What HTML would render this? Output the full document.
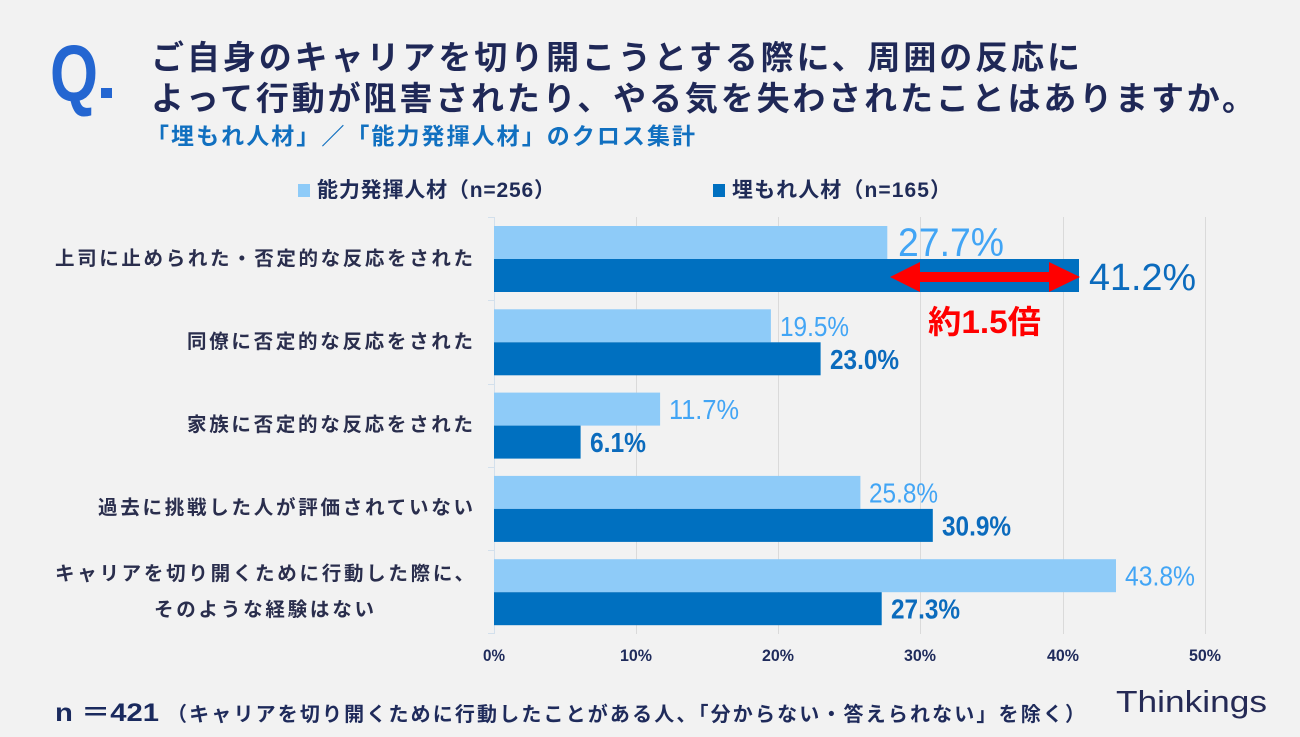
<!DOCTYPE html>
<html><head><meta charset="utf-8"><style>
html,body{margin:0;padding:0;background:#f2f2f2;}
svg{display:block;}
text{font-family:"Liberation Sans","Noto Sans CJK JP",sans-serif;}
</style></head><body>
<svg width="1300" height="737" viewBox="0 0 1300 737" xmlns="http://www.w3.org/2000/svg">
<rect width="1300" height="737" fill="#f2f2f2"/>
<!-- Q. -->
<text x="50" y="101" font-size="80" font-weight="bold" fill="#2466d1" textLength="48" lengthAdjust="spacingAndGlyphs">Q</text>
<rect x="101" y="88" width="11" height="10" fill="#2466d1"/>
<!-- Title -->
<text x="151" y="69" font-size="33" font-weight="bold" fill="#1f2857" textLength="929" lengthAdjust="spacing">ご自身のキャリアを切り開こうとする際に、周囲の反応に</text>
<text x="151" y="110" font-size="33" font-weight="bold" fill="#1f2857" textLength="1104" lengthAdjust="spacing">よって行動が阻害されたり、やる気を失わされたことはありますか。</text>
<text x="146" y="144" font-size="23" font-weight="bold" fill="#1170c0" textLength="549" lengthAdjust="spacing">「埋もれ人材」／「能力発揮人材」のクロス集計</text>
<!-- Legend -->
<rect x="298" y="184" width="12" height="13" fill="#8ecbf8"/>
<text x="317" y="197" font-size="21" font-weight="bold" fill="#1f2b57" textLength="238" lengthAdjust="spacing">能力発揮人材（n=256）</text>
<rect x="713" y="184" width="12" height="13" fill="#0070c0"/>
<text x="732" y="197" font-size="21" font-weight="bold" fill="#1f2b57" textLength="219" lengthAdjust="spacing">埋もれ人材（n=165）</text>
<!-- Grid -->
<g stroke="#dadada" stroke-width="1">
<line x1="636.5" y1="217" x2="636.5" y2="634"/>
<line x1="778.5" y1="217" x2="778.5" y2="634"/>
<line x1="920.5" y1="217" x2="920.5" y2="634"/>
<line x1="1063.5" y1="217" x2="1063.5" y2="634"/>
<line x1="1205.5" y1="217" x2="1205.5" y2="634"/>
</g>
<g stroke="#d3e0ec" stroke-width="1">
<line x1="494.5" y1="217" x2="494.5" y2="634"/>
<line x1="488" y1="217.5" x2="494" y2="217.5"/>
<line x1="488" y1="300.5" x2="494" y2="300.5"/>
<line x1="488" y1="384.5" x2="494" y2="384.5"/>
<line x1="488" y1="467.5" x2="494" y2="467.5"/>
<line x1="488" y1="550.5" x2="494" y2="550.5"/>
<line x1="488" y1="633.5" x2="494" y2="633.5"/>
</g>
<!-- Bars -->
<g fill="#8ecbf8">
<rect x="494" y="226" width="393.3" height="33"/>
<rect x="494" y="309.3" width="276.9" height="33"/>
<rect x="494" y="392.6" width="166.1" height="33"/>
<rect x="494" y="475.9" width="366.4" height="33"/>
<rect x="494" y="559.2" width="622" height="33"/>
</g>
<g fill="#0070c0">
<rect x="494" y="259" width="585" height="33"/>
<rect x="494" y="342.3" width="326.6" height="33"/>
<rect x="494" y="425.6" width="86.6" height="33"/>
<rect x="494" y="508.9" width="438.8" height="33"/>
<rect x="494" y="592.2" width="387.7" height="33"/>
</g>
<!-- Arrow -->
<polygon points="890,277 920,262 920,272 1049,272 1049,262 1080,277 1049,292 1049,282 920,282 920,292" fill="#ff0000"/>
<text x="928" y="333" font-size="32" font-weight="bold" fill="#ff0000" textLength="113" lengthAdjust="spacingAndGlyphs">約1.5倍</text>
<!-- Data labels -->
<text x="898" y="256" font-size="40" fill="#42a5f5" textLength="106" lengthAdjust="spacingAndGlyphs">27.7%</text>
<text x="1089" y="290" font-size="38" fill="#0b6bbd" textLength="107" lengthAdjust="spacingAndGlyphs">41.2%</text>
<g font-size="28" fill="#42a5f5">
<text x="780" y="335.8" textLength="69" lengthAdjust="spacingAndGlyphs">19.5%</text>
<text x="669" y="419.1" textLength="70" lengthAdjust="spacingAndGlyphs">11.7%</text>
<text x="869" y="502.4" textLength="69" lengthAdjust="spacingAndGlyphs">25.8%</text>
<text x="1125" y="585.7" textLength="70" lengthAdjust="spacingAndGlyphs">43.8%</text>
</g>
<g font-size="28" font-weight="bold" fill="#0b6bbd">
<text x="830" y="368.8" textLength="69" lengthAdjust="spacingAndGlyphs">23.0%</text>
<text x="590" y="452.1" textLength="56" lengthAdjust="spacingAndGlyphs">6.1%</text>
<text x="942" y="535.4" textLength="69" lengthAdjust="spacingAndGlyphs">30.9%</text>
<text x="891" y="618.7" textLength="69" lengthAdjust="spacingAndGlyphs">27.3%</text>
</g>
<!-- Category labels -->
<g font-size="19.5" font-weight="bold" fill="#2a2e4d">
<text x="55" y="265" textLength="418" lengthAdjust="spacing">上司に止められた・否定的な反応をされた</text>
<text x="187" y="348" textLength="286" lengthAdjust="spacing">同僚に否定的な反応をされた</text>
<text x="187" y="431" textLength="286" lengthAdjust="spacing">家族に否定的な反応をされた</text>
<text x="98" y="514" textLength="375" lengthAdjust="spacing">過去に挑戦した人が評価されていない</text>
<text x="55" y="580" textLength="419" lengthAdjust="spacing">キャリアを切り開くために行動した際に、</text>
<text x="154" y="616" textLength="220" lengthAdjust="spacing">そのような経験はない</text>
</g>
<!-- Tick labels -->
<g font-size="17" font-weight="bold" fill="#1f2b5b" text-anchor="middle">
<text x="494" y="661" textLength="22" lengthAdjust="spacingAndGlyphs">0%</text>
<text x="636" y="661" textLength="32" lengthAdjust="spacingAndGlyphs">10%</text>
<text x="778" y="661" textLength="32" lengthAdjust="spacingAndGlyphs">20%</text>
<text x="920" y="661" textLength="32" lengthAdjust="spacingAndGlyphs">30%</text>
<text x="1063" y="661" textLength="32" lengthAdjust="spacingAndGlyphs">40%</text>
<text x="1205" y="661" textLength="32" lengthAdjust="spacingAndGlyphs">50%</text>
</g>
<!-- Footer -->
<text x="55" y="721" font-size="25" font-weight="bold" fill="#1a2a5e" textLength="104" lengthAdjust="spacingAndGlyphs">n ＝421</text>
<text x="167" y="721" font-size="20" font-weight="bold" fill="#1f2b5b" textLength="918" lengthAdjust="spacing">（キャリアを切り開くために行動したことがある人、「分からない・答えられない」を除く）</text>
<text x="1116" y="712" font-size="31" fill="#252a55" textLength="151" lengthAdjust="spacingAndGlyphs">Thinkings</text>
</svg>
</body></html>
